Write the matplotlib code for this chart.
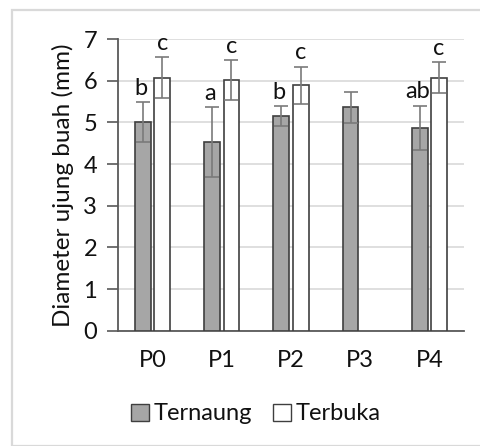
import numpy as np
import matplotlib
matplotlib.use("Agg")
import matplotlib.pyplot as plt
from matplotlib.patches import Rectangle, Patch

plt.rcParams['font.family'] = ['Lato', 'DejaVu Sans']

categories = ["P0", "P1", "P2", "P3", "P4"]
ternaung = [5.00, 4.53, 5.15, 5.36, 4.87]
ternaung_err = [0.48, 0.83, 0.24, 0.38, 0.53]
ternaung_lbl = ["b", "a", "b", "", "ab"]
terbuka = [6.07, 6.02, 5.89, np.nan, 6.07]
terbuka_err = [0.49, 0.48, 0.45, np.nan, 0.37]
terbuka_lbl = ["c", "c", "c", "", "c"]

fig = plt.figure(figsize=(4.81, 4.46), dpi=100)
fig.patches.append(Rectangle((12 / 481, 0), 1.0, 1 - 10 / 446, transform=fig.transFigure,
                             fill=False, edgecolor="#d9d9d9", linewidth=1.6, zorder=0))

ax = fig.add_axes([118 / 481, 1 - 330.7 / 446, 346 / 481, (330.7 - 39) / 446])
x = np.arange(len(categories))
w = 0.227
off = (w + 0.053) / 2

err_kw = dict(ecolor="#7a7a7a", elinewidth=1.2, capsize=5, capthick=1.2)
ax.bar(x - off, ternaung, w, color="#a6a6a6", edgecolor="#3f3f3f", linewidth=1.2,
       yerr=ternaung_err, error_kw=err_kw, zorder=3, label="Ternaung")
ax.bar(x + off, terbuka, w, color="white", edgecolor="#3f3f3f", linewidth=1.2,
       yerr=terbuka_err, error_kw=err_kw, zorder=3, label="Terbuka")

fs = 17
for xi, v, e, t in zip(x - off, ternaung, ternaung_err, ternaung_lbl):
    if t:
        ax.text(xi - 0.03, v + e + 0.08, t, ha="center", va="bottom", fontsize=fs, color="#111111")
for xi, v, e, t in zip(x + off, terbuka, terbuka_err, terbuka_lbl):
    if t and not np.isnan(v):
        ax.text(xi, v + e + 0.08, t, ha="center", va="bottom", fontsize=fs, color="#111111")

ax.set_xlim(-0.5, len(categories) - 0.5)
ax.set_ylim(0, 7)
ax.set_yticks(range(0, 8))
ax.set_xticks(x)
ax.set_xticklabels(categories)
ax.yaxis.grid(True, color="#d9d9d9", linewidth=1.2, zorder=0)
ax.set_axisbelow(True)
for s in ["top", "right"]:
    ax.spines[s].set_visible(False)
for s in ["left", "bottom"]:
    ax.spines[s].set_color("#595959")
    ax.spines[s].set_linewidth(1.3)
ax.tick_params(axis="y", length=8, width=1.2, color="#595959", labelsize=fs,
               labelcolor="#111111", pad=7)
ax.tick_params(axis="x", length=0, labelsize=fs, labelcolor="#111111", pad=14)
ax.set_ylabel("Diameter ujung buah (mm)", fontsize=17.5, color="#111111", labelpad=7)

handles = [Patch(facecolor="#a6a6a6", edgecolor="#3f3f3f", linewidth=1.0, label="Ternaung"),
           Patch(facecolor="white", edgecolor="#3f3f3f", linewidth=1.0, label="Terbuka")]
fig.legend(handles=handles, loc="center", bbox_to_anchor=(256 / 481, 1 - 414 / 446),
           ncol=2, frameon=False, fontsize=fs, handlelength=0.75, handleheight=0.75,
           handletextpad=0.2, columnspacing=0.9, labelcolor="#111111")

fig.savefig("out.png", dpi=100, facecolor="white")
